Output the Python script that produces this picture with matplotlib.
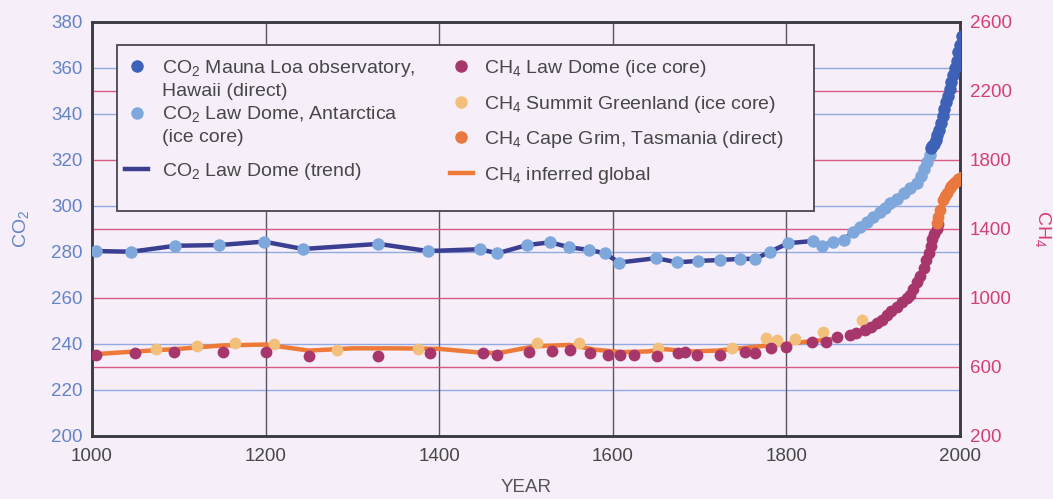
import matplotlib
matplotlib.use('Agg')
import matplotlib.pyplot as plt
from matplotlib.lines import Line2D
from matplotlib.patches import Rectangle

# CO2 (ppm), левая ось
co2_ml_years = [1966, 1968, 1970, 1972, 1974, 1976, 1978, 1980, 1982, 1984, 1986, 1988,
                1990, 1992, 1994, 1996, 1998, 2000, 2002]
co2_ml = [325, 326, 327, 328.5, 331, 333, 336, 339, 342, 345, 348, 351,
          354, 357, 360, 363, 367, 370, 374]

co2_ld_years = [1005, 1045, 1096, 1146, 1198, 1243, 1330, 1387, 1447, 1467, 1501, 1528,
                1550, 1573, 1591, 1607, 1650, 1674, 1698, 1723, 1747, 1764, 1781, 1802,
                1831, 1841, 1854, 1866, 1877, 1885, 1893, 1900, 1908, 1913, 1919, 1927,
                1935, 1942, 1950, 1955, 1958, 1962, 1965]
co2_ld = [280.4, 280.1, 282.7, 283.0, 284.5, 281.3, 283.5, 280.4, 281.2, 279.4, 283.0, 284.2,
          282.0, 280.9, 279.4, 275.4, 277.3, 275.5, 276.1, 276.5, 277.0, 277.0, 280.1, 283.8,
          284.8, 282.6, 284.5, 285.2, 288.8, 291.0, 293.2, 295.0, 297.5, 299.0, 301.2, 303.0,
          305.5, 308.0, 310.0, 313.0, 316.0, 319.0, 322.0]

# CH4 (ppb), правая ось
ch4_ld_years = [1005, 1050, 1095, 1151, 1200, 1250, 1329, 1389, 1450, 1466, 1503, 1530,
                1551, 1574, 1595, 1608, 1624, 1651, 1675, 1683, 1697, 1723, 1752, 1764,
                1782, 1800, 1829, 1846, 1858, 1873, 1880, 1891, 1897, 1904, 1910, 1916,
                1921, 1927, 1933, 1939, 1942, 1946, 1950, 1954, 1958, 1961, 1964, 1966,
                1968, 1970, 1973, 1975]
ch4_ld = [670, 679, 689, 685, 689, 664, 664, 679, 683, 670, 689, 695,
          699, 679, 670, 670, 670, 664, 679, 689, 670, 670, 689, 683,
          708, 714, 747, 747, 772, 785, 795, 815, 830, 853, 875, 901,
          925, 950, 975, 998, 1020, 1050, 1090, 1130, 1175, 1220, 1260, 1300,
          1340, 1370, 1400, 1430]

ch4_summit_years = [1074, 1121, 1165, 1210, 1282, 1376, 1513, 1561, 1652, 1737, 1777, 1789,
                    1810, 1842, 1887]
ch4_summit = [704, 722, 741, 733, 699, 704, 737, 737, 708, 708, 766, 757,
              762, 805, 872]

ch4_cg_years = [1973, 1975, 1977, 1980, 1983, 1985, 1988, 1990, 1992, 1994, 1996, 1998, 2000, 2002]
ch4_cg = [1435, 1470, 1510, 1568, 1590, 1610, 1635, 1650, 1660, 1670, 1680, 1690, 1696, 1701]

ch4_glob_years = [1000, 1050, 1100, 1150, 1200, 1250, 1300, 1350, 1400, 1450, 1470, 1510,
                  1550, 1580, 1610, 1640, 1660, 1690, 1720, 1750, 1780, 1800, 1830, 1850]
ch4_glob = [673, 690, 705, 725, 730, 695, 708, 708, 705, 682, 682, 720,
            728, 700, 686, 690, 703, 690, 695, 710, 725, 735, 750, 760]

co2_ticks = list(range(200, 381, 20))
ch4_ticks = list(range(200, 2601, 400))
year_ticks = list(range(1000, 2001, 200))
co2_grid = [220, 240, 280, 300, 340, 360]
ch4_grid = [600, 1000, 1400, 1800, 2200]

bg = '#f6eef8'
c_ml = '#3d62b8'
c_ld = '#7ea8dc'
c_trend = '#3b3f92'
c_ch4ld = '#a6366b'
c_summit = '#f3c07c'
c_cg = '#e9793f'
c_glob = '#ee7a38'
c_left = '#6484c8'
c_right = '#d63f72'
c_text = '#474747'

plt.rcParams['font.family'] = ['Liberation Sans', 'DejaVu Sans']
plt.rcParams['mathtext.default'] = 'regular'

fig = plt.figure(figsize=(10.53, 4.99), dpi=100, facecolor=bg)
ax = fig.add_axes([0.0874, 0.1263, 0.8243, 0.8297], facecolor=bg)
ax2 = ax.twinx()   # CH4
ax3 = ax.twinx()   # CO2 поверх всего

ax.set_xlim(1000, 2000)
ax.set_ylim(200, 380)
ax2.set_ylim(200, 2600)
ax3.set_ylim(200, 380)

# сетка
for v in co2_grid:
    ax.axhline(v, color='#93a9e2', lw=1.0, zorder=0)
for v in year_ticks[1:-1]:
    ax.axvline(v, color='#5a5566', lw=1.0, zorder=0)
for v in ch4_grid:
    ax2.axhline(v, color='#d65a84', lw=1.0, zorder=0)

# CH4
ax2.plot(ch4_glob_years, ch4_glob, color=c_glob, lw=3.2, zorder=2)
ax2.plot(ch4_summit_years, ch4_summit, 'o', color=c_summit, ms=8.5, mew=0, zorder=3)
ax2.plot(ch4_ld_years, ch4_ld, 'o', color=c_ch4ld, ms=8.5, mew=0, zorder=4)
ax2.plot(ch4_cg_years, ch4_cg, 'o', color=c_cg, ms=8.5, mew=0, zorder=5)

# CO2
ax3.plot(co2_ld_years, co2_ld, color=c_trend, lw=3.2, zorder=2)
ax3.plot(co2_ld_years, co2_ld, 'o', color=c_ld, ms=9, mew=0, zorder=3)
ax3.plot(co2_ml_years, co2_ml, 'o', color=c_ml, ms=9, mew=0, zorder=4)

# оси и подписи
ax.set_xticks(year_ticks)
ax.set_yticks(co2_ticks)
ax2.set_yticks(ch4_ticks)
ax.tick_params(axis='x', length=0, pad=9, labelsize=13.5, labelcolor=c_text)
ax.tick_params(axis='y', length=0, pad=7, labelsize=13.5, labelcolor=c_left)
ax2.tick_params(axis='y', length=0, pad=7, labelsize=13.5, labelcolor=c_right)
ax3.axis('off')

for a in (ax, ax2):
    for s in a.spines.values():
        s.set_color('#3a3a40')
        s.set_linewidth(1.8)

ax.set_xlabel('YEAR', fontsize=13.5, color='#555555', labelpad=10)
ax.set_ylabel('CO$_2$', fontsize=14, color=c_left, labelpad=14)
ax2.set_ylabel('CH$_4$', fontsize=14, color=c_right, rotation=270, labelpad=30)

# легенда
ax3.add_patch(Rectangle((0.0288, 0.5435), 0.803, 0.401, transform=ax3.transAxes,
                        facecolor=bg, edgecolor='#4a4550', lw=1.3, zorder=10, clip_on=False))

blank = Line2D([], [], linestyle='none')
h1 = [Line2D([], [], ls='none', marker='o', color=c_ml, ms=9, mew=0), blank,
      Line2D([], [], ls='none', marker='o', color=c_ld, ms=9, mew=0), blank]
l1 = ['CO$_2$ Mauna Loa observatory,', 'Hawaii (direct)',
      'CO$_2$ Law Dome, Antarctica', '(ice core)']
h1b = [Line2D([], [], color=c_trend, lw=3.2)]
l1b = ['CO$_2$ Law Dome (trend)']
h2 = [Line2D([], [], ls='none', marker='o', color=c_ch4ld, ms=9, mew=0),
      Line2D([], [], ls='none', marker='o', color=c_summit, ms=9, mew=0),
      Line2D([], [], ls='none', marker='o', color=c_cg, ms=9, mew=0),
      Line2D([], [], color=c_glob, lw=3.2)]
l2 = ['CH$_4$ Law Dome (ice core)', 'CH$_4$ Summit Greenland (ice core)',
      'CH$_4$ Cape Grim, Tasmania (direct)', 'CH$_4$ inferred global']

common = dict(loc='upper left', frameon=False, borderpad=0, borderaxespad=0,
              handlelength=1.2, fontsize=14, labelcolor=c_text)
leg1 = ax3.legend(h1, l1, bbox_to_anchor=(0.038, 0.913), handletextpad=0.7,
                  labelspacing=0.2, **common)
leg1.set_zorder(11)
ax3.add_artist(leg1)
leg1b = ax3.legend(h1b, l1b, bbox_to_anchor=(0.038, 0.665), handletextpad=0.7, **common)
leg1b.set_zorder(11)
ax3.add_artist(leg1b)
leg2 = ax3.legend(h2, l2, bbox_to_anchor=(0.412, 0.913), handletextpad=0.55,
                  labelspacing=0.75, **common)
leg2.set_zorder(11)

fig.savefig('out.png', dpi=100, facecolor=bg)
